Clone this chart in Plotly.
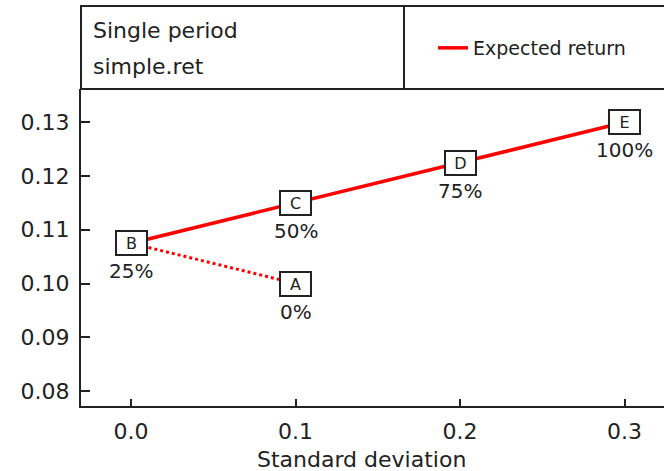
import plotly.graph_objects as go

# Portfolio points: label, weight text, standard deviation, expected return
point_labels = ["A", "B", "C", "D", "E"]
weight_labels = ["0%", "25%", "50%", "75%", "100%"]
std_dev = [0.1, 0.0, 0.1, 0.2, 0.3]
exp_ret = [0.100, 0.1075, 0.115, 0.1225, 0.130]

# Efficient segment B -> E and the dotted segment B -> A
frontier_idx = [1, 2, 3, 4]
lower_idx = [1, 0]

x_ticks = [0.0, 0.1, 0.2, 0.3]
y_ticks = [0.08, 0.09, 0.10, 0.11, 0.12, 0.13]

title_lines = ["Single period", "simple.ret"]
x_title = "Standard deviation"
series_name = "Expected return"

FONT = "DejaVu Sans"
INK = "#222222"
RED = "#ff0000"

W, H = 664, 471
ML, MR, MT, MB = 81, 0, 89, 65
plot_h = H - MT - MB
plot_w = W - ML - MR


def px_to_paper_y(py):
    return 1 + (MT - py) / plot_h


def px_to_paper_x(px):
    return (px - ML) / plot_w


fig = go.Figure()

fig.add_trace(go.Scatter(
    x=[std_dev[i] for i in lower_idx],
    y=[exp_ret[i] for i in lower_idx],
    mode="lines",
    line=dict(color=RED, width=3, dash="dot"),
    showlegend=False,
    hoverinfo="skip",
))
fig.add_trace(go.Scatter(
    x=[std_dev[i] for i in frontier_idx],
    y=[exp_ret[i] for i in frontier_idx],
    mode="lines",
    line=dict(color=RED, width=3.5),
    name=series_name,
    showlegend=True,
))

annotations = []
for lab, w, xv, yv in zip(point_labels, weight_labels, std_dev, exp_ret):
    annotations.append(dict(
        x=xv, y=yv, xref="x", yref="y", text=lab, showarrow=False,
        font=dict(family=FONT, size=16, color=INK),
        bgcolor="white", bordercolor=INK, borderwidth=2, borderpad=1,
        width=27, height=20, align="center", valign="middle",
    ))
    annotations.append(dict(
        x=xv, y=yv, xref="x", yref="y", text=w, showarrow=False,
        font=dict(family=FONT, size=20, color=INK),
        yshift=-28,
    ))

annotations.append(dict(
    x=px_to_paper_x(91), y=px_to_paper_y(30), xref="paper", yref="paper",
    text=title_lines[0], showarrow=False, xanchor="left", yanchor="middle",
    font=dict(family=FONT, size=22, color=INK),
))
annotations.append(dict(
    x=px_to_paper_x(91), y=px_to_paper_y(66), xref="paper", yref="paper",
    text=title_lines[1], showarrow=False, xanchor="left", yanchor="middle",
    font=dict(family=FONT, size=22, color=INK),
))
annotations.append(dict(
    x=px_to_paper_x(361), y=px_to_paper_y(459), xref="paper", yref="paper",
    text=x_title, showarrow=False, xanchor="center", yanchor="middle",
    font=dict(family=FONT, size=22, color=INK),
))

shapes = [
    dict(type="rect", xref="paper", yref="paper",
         x0=0, x1=1.05, y0=1, y1=px_to_paper_y(6),
         line=dict(color=INK, width=2), fillcolor="rgba(0,0,0,0)"),
    dict(type="line", xref="paper", yref="paper",
         x0=px_to_paper_x(404), x1=px_to_paper_x(404), y0=1, y1=px_to_paper_y(6),
         line=dict(color=INK, width=2)),
]

fig.update_layout(
    width=W, height=H,
    margin=dict(l=ML, r=MR, t=MT, b=MB),
    paper_bgcolor="white", plot_bgcolor="white",
    font=dict(family=FONT, color=INK),
    annotations=annotations,
    shapes=shapes,
    showlegend=True,
    legend=dict(
        x=px_to_paper_x(433), y=px_to_paper_y(48),
        xanchor="left", yanchor="middle",
        bgcolor="rgba(0,0,0,0)", borderwidth=0,
        font=dict(family=FONT, size=19, color=INK),
    ),
    xaxis=dict(
        range=[-0.0304, 0.3240],
        tickvals=x_ticks, tickformat=".1f",
        showline=True, linecolor=INK, linewidth=2,
        ticks="inside", ticklen=7, tickwidth=2, tickcolor=INK,
        showgrid=False, zeroline=False, mirror=False,
        tickfont=dict(family=FONT, size=22, color=INK),
        ticklabelstandoff=5,
    ),
    yaxis=dict(
        range=[0.0772, 0.1362],
        tickvals=y_ticks, tickformat=".2f",
        showline=True, linecolor=INK, linewidth=2,
        ticks="inside", ticklen=9, tickwidth=2, tickcolor=INK,
        showgrid=False, zeroline=False, mirror=False,
        tickfont=dict(family=FONT, size=22, color=INK),
        ticklabelstandoff=5,
    ),
)

fig.write_html("out.html")
